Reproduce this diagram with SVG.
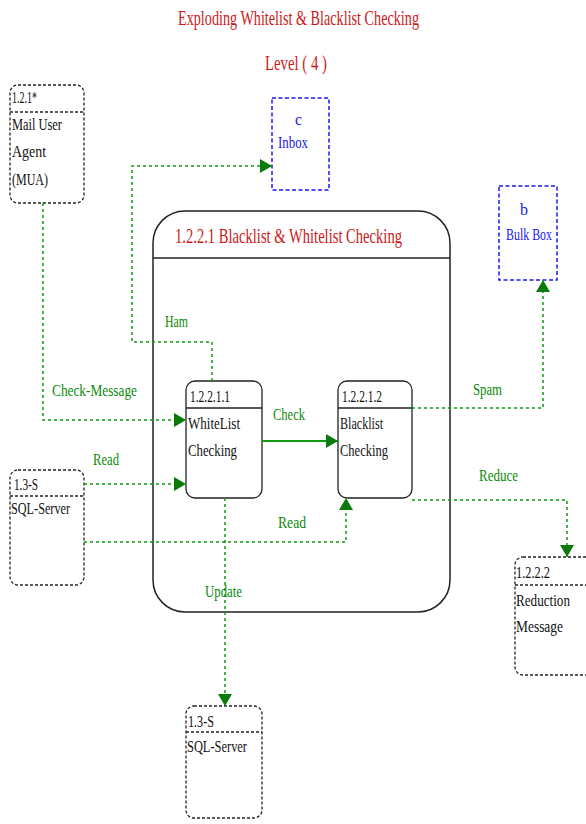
<svg xmlns="http://www.w3.org/2000/svg" width="586" height="824" viewBox="0 0 586 824">
<style>
text{font-family:"Liberation Serif","Times New Roman","DejaVu Serif",serif}
.t{fill:#cc1a1a;font-size:21px}
.n{fill:#111;font-size:17px}
.b{fill:#1a1aee;font-size:17px}
.g{fill:#0a8a0a;font-size:17px}
.ext{fill:#fff;stroke:#222;stroke-width:1.3;stroke-dasharray:3 2}
.sep{stroke:#222;stroke-width:1.3;stroke-dasharray:3 2}
.store{fill:#fff;stroke:#1a1aee;stroke-width:1.5;stroke-dasharray:4 2.5}
.proc{fill:#fff;stroke:#222;stroke-width:1.3}
.psep{stroke:#222;stroke-width:1.5}
.c{fill:none;stroke:#119911;stroke-width:1.5;stroke-dasharray:3 3}
.cs{fill:none;stroke:#119911;stroke-width:2}
</style>
<defs>
<marker id="ah" markerUnits="userSpaceOnUse" markerWidth="12" markerHeight="14" refX="12" refY="7" orient="auto">
<path d="M0,0 L12,7 L0,14 z" fill="#0a7a0a"/>
</marker>
</defs>

<g id="title">
<text class="t" x="178" y="25" textLength="241" lengthAdjust="spacingAndGlyphs">Exploding Whitelist &amp; Blacklist Checking</text>
<text class="t" x="265" y="70" textLength="62" lengthAdjust="spacingAndGlyphs">Level ( 4 )</text>
</g>

<g id="mua">
<rect class="ext" x="10" y="85" width="74" height="118" rx="8"/>
<line class="sep" x1="10" y1="112" x2="84" y2="112"/>
<text class="n" x="12" y="103" textLength="25" lengthAdjust="spacingAndGlyphs">1.2.1*</text>
<text class="n" x="12" y="130" textLength="50" lengthAdjust="spacingAndGlyphs">Mail User</text>
<text class="n" x="12" y="157" textLength="34" lengthAdjust="spacingAndGlyphs">Agent</text>
<text class="n" x="12" y="185" textLength="36" lengthAdjust="spacingAndGlyphs">(MUA)</text>
</g>

<g id="inbox">
<rect class="store" x="272" y="98" width="57" height="92"/>
<text class="b" x="295" y="125" textLength="7" lengthAdjust="spacingAndGlyphs">c</text>
<text class="b" x="278" y="148" textLength="30" lengthAdjust="spacingAndGlyphs">Inbox</text>
</g>

<g id="bulkbox">
<rect class="store" x="499" y="186" width="58" height="94"/>
<text class="b" x="520" y="215" textLength="8" lengthAdjust="spacingAndGlyphs">b</text>
<text class="b" x="506" y="240" textLength="46" lengthAdjust="spacingAndGlyphs">Bulk Box</text>
</g>

<g id="parent">
<rect x="153" y="211" width="297" height="401" rx="32" fill="none" stroke="#222" stroke-width="1.5"/>
<line class="psep" x1="153" y1="258" x2="450" y2="258"/>
<text class="t" x="175" y="243" textLength="227" lengthAdjust="spacingAndGlyphs">1.2.2.1  Blacklist &amp; Whitelist Checking</text>
</g>

<g id="whitelist">
<rect class="proc" x="186" y="381" width="76" height="117" rx="9"/>
<line class="psep" x1="186" y1="408" x2="262" y2="408"/>
<text class="n" x="190" y="402" textLength="40" lengthAdjust="spacingAndGlyphs">1.2.2.1.1</text>
<text class="n" x="188" y="429" textLength="52" lengthAdjust="spacingAndGlyphs">WhiteList</text>
<text class="n" x="188" y="456" textLength="49" lengthAdjust="spacingAndGlyphs">Checking</text>
</g>

<g id="blacklist">
<rect class="proc" x="338" y="381" width="74" height="117" rx="9"/>
<line class="psep" x1="338" y1="408" x2="412" y2="408"/>
<text class="n" x="342" y="402" textLength="40" lengthAdjust="spacingAndGlyphs">1.2.2.1.2</text>
<text class="n" x="340" y="429" textLength="43" lengthAdjust="spacingAndGlyphs">Blacklist</text>
<text class="n" x="340" y="456" textLength="48" lengthAdjust="spacingAndGlyphs">Checking</text>
</g>

<g id="sql1">
<rect class="ext" x="10" y="470" width="74" height="115" rx="8"/>
<line class="sep" x1="10" y1="496" x2="84" y2="496"/>
<text class="n" x="14" y="490" textLength="24" lengthAdjust="spacingAndGlyphs">1.3-S</text>
<text class="n" x="11" y="514" textLength="59" lengthAdjust="spacingAndGlyphs">SQL-Server</text>
</g>

<g id="reduction">
<rect class="ext" x="515" y="557" width="80" height="118" rx="8"/>
<line class="sep" x1="515" y1="585" x2="586" y2="585"/>
<text class="n" x="516" y="578" textLength="34" lengthAdjust="spacingAndGlyphs">1.2.2.2</text>
<text class="n" x="516" y="606" textLength="54" lengthAdjust="spacingAndGlyphs">Reduction</text>
<text class="n" x="516" y="632" textLength="47" lengthAdjust="spacingAndGlyphs">Message</text>
</g>

<g id="sql2">
<rect class="ext" x="186" y="706" width="76" height="112" rx="8"/>
<line class="sep" x1="186" y1="732" x2="262" y2="732"/>
<text class="n" x="188" y="727" textLength="26" lengthAdjust="spacingAndGlyphs">1.3-S</text>
<text class="n" x="187" y="752" textLength="60" lengthAdjust="spacingAndGlyphs">SQL-Server</text>
</g>

<g id="connectors">
<path class="c" d="M43,203 V420 H186" marker-end="url(#ah)"/>
<path class="c" d="M84,484 H186" marker-end="url(#ah)"/>
<path class="c" d="M84,542 H346 V498" marker-end="url(#ah)"/>
<path class="cs" d="M262,441 H338" marker-end="url(#ah)"/>
<path class="c" d="M212,381 V342 H132 V166 H272" marker-end="url(#ah)"/>
<path class="c" d="M412,408 H543 V280" marker-end="url(#ah)"/>
<path class="c" d="M412,500 H567 V557" marker-end="url(#ah)"/>
<path class="c" d="M225,498 V706" marker-end="url(#ah)"/>
<text class="g" x="52" y="396" textLength="85" lengthAdjust="spacingAndGlyphs">Check-Message</text>
<text class="g" x="93" y="465" textLength="26" lengthAdjust="spacingAndGlyphs">Read</text>
<text class="g" x="278" y="528" textLength="28" lengthAdjust="spacingAndGlyphs">Read</text>
<text class="g" x="273" y="420" textLength="32" lengthAdjust="spacingAndGlyphs">Check</text>
<text class="g" x="165" y="327" textLength="23" lengthAdjust="spacingAndGlyphs">Ham</text>
<text class="g" x="473" y="395" textLength="29" lengthAdjust="spacingAndGlyphs">Spam</text>
<text class="g" x="479" y="481" textLength="39" lengthAdjust="spacingAndGlyphs">Reduce</text>
<text class="g" x="205" y="597" textLength="37" lengthAdjust="spacingAndGlyphs">Update</text>
</g>
</svg>
